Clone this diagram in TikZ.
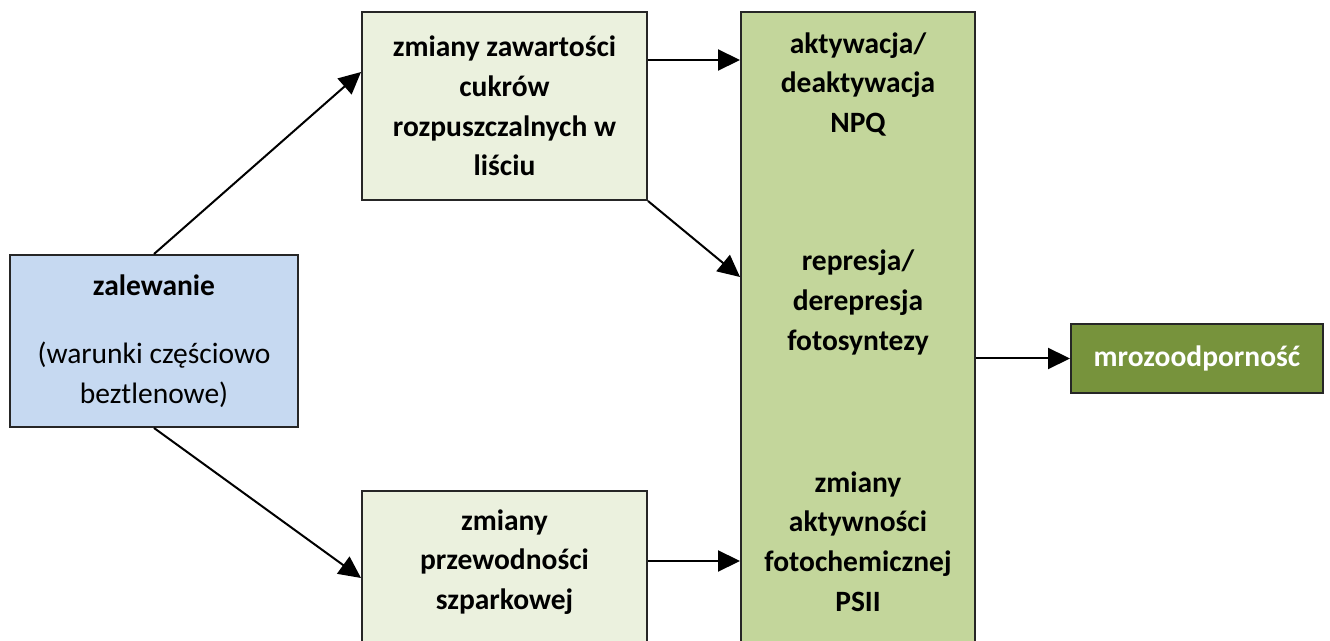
\documentclass[tikz,border=0pt]{standalone}
\usepackage{fontspec}
\setmainfont{Carlito}
\usetikzlibrary{arrows.meta}
\definecolor{floodblue}{HTML}{C6D9F1}
\definecolor{paleleaf}{HTML}{EBF1DE}
\definecolor{midleaf}{HTML}{C3D69B}
\definecolor{darkleaf}{HTML}{77933C}

\begin{document}
\begin{tikzpicture}[x=0.02cm, y=-0.02cm,
		box/.style={draw=black!85, line width=0.04cm, inner sep=0pt, align=center, font=\fontsize{16.8pt}{22.5pt}\selectfont\bfseries},
		txt/.style={inner sep=0pt, align=center, font=\fontsize{16.8pt}{22.5pt}\selectfont\bfseries},
		arr/.style={line width=0.04cm, -{Triangle[length=0.44cm, width=0.42cm]}}]
		%%%%% START %%%%%
		
		\useasboundingbox (0, 0) rectangle (1330, 641);
		
		% boxes
		\node[box, fill=floodblue, minimum width=5.76cm, minimum height=3.44cm] (zal) at (154, 341) {zalewanie\\[0.58cm]\mdseries (warunki częściowo\\\mdseries beztlenowe)};
		\node[box, fill=paleleaf, minimum width=5.7cm, minimum height=3.76cm] (sugar) at (504.5, 106) {zmiany zawartości\\cukrów\\rozpuszczalnych w\\liściu};
		\node[box, fill=paleleaf, minimum width=5.7cm, minimum height=3.48cm] (stomata) at (504.5, 578) {};
		\node[txt] (stomatatxt) at (504.5, 562) {zmiany\\przewodności\\szparkowej};
		
		\node[box, fill=midleaf, minimum width=4.68cm, minimum height=13.76cm] (effects) at (858, 356) {};
		\node[txt] (npq) at (858, 84.5) {aktywacja/\\deaktywacja\\NPQ};
		\node[txt] (photo) at (858, 302.5) {represja/\\derepresja\\fotosyntezy};
		\node[txt] (psii) at (858, 541.5) {zmiany\\aktywności\\fotochemicznej\\PSII};
		
		\node[box, fill=darkleaf, text=white, minimum width=5.04cm, minimum height=1.38cm] (mroz) at (1197, 358.5) {mrozoodporność};
		
		% arrows
		\draw[arr] (zal.north) -- ([yshift=0.68cm]sugar.west);
		\draw[arr] (zal.south) -- (stomata.west);
		\draw[arr] ([yshift=0.92cm]sugar.east) -- ([yshift=0.92cm]sugar.east -| effects.west);
		\draw[arr] (sugar.south east) -- ([yshift=1.58cm]effects.west);
		\draw[arr] ([yshift=0.34cm]stomata.east) -- ([yshift=0.34cm]stomata.east -| effects.west);
		\draw[arr] (effects.east |- mroz.west) -- (mroz.west);
		
		%%%%% END %%%%%
	\end{tikzpicture}
\end{document}
